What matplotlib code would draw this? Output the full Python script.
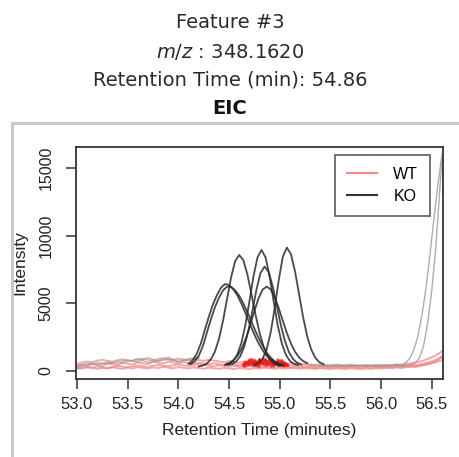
import matplotlib
matplotlib.use("Agg")
import matplotlib.pyplot as plt
from matplotlib.lines import Line2D
from matplotlib.patches import Rectangle

# ---------------- data ----------------
title_feature = "Feature #3"
title_mz = "348.1620"
title_rt = "Retention Time (min): 54.86"
panel_title = "EIC"
x_label = "Retention Time (minutes)"
y_label = "Intensity"
legend_labels = ["WT", "KO"]
x_ticks = [53.0, 53.5, 54.0, 54.5, 55.0, 55.5, 56.0, 56.5]
y_ticks = [0, 5000, 10000, 15000]

# WT (pink) baseline traces on a shared scan grid
wt_rt = [53.00, 53.05, 53.10, 53.15, 53.20, 53.25, 53.30, 53.35, 53.40, 53.45,
         53.50, 53.55, 53.60, 53.65, 53.70, 53.75, 53.80, 53.85, 53.90, 53.95,
         54.00, 54.05, 54.10, 54.15, 54.20, 54.25, 54.30, 54.35, 54.40, 54.45,
         54.50, 54.55, 54.60, 54.65, 54.70, 54.75, 54.80, 54.85, 54.90, 54.95,
         55.00, 55.05, 55.10, 55.15, 55.20, 55.25, 55.30, 55.35, 55.40, 55.45,
         55.50, 55.55, 55.60, 55.65, 55.70, 55.75, 55.80, 55.85, 55.90, 55.95,
         56.00, 56.05, 56.10, 56.15, 56.20, 56.25, 56.30, 56.35, 56.40, 56.45,
         56.50, 56.55, 56.60]
wt_1 = [300, 420, 360, 510, 450, 380, 560, 490, 420, 600, 530, 470, 640, 560, 500, 680, 610, 540, 700, 620,
        560, 650, 580, 520, 610, 540, 480, 570, 500, 440, 530, 470, 420, 500, 450, 400, 470, 420, 380, 440,
        400, 360, 420, 380, 340, 390, 350, 320, 370, 340, 310, 360, 330, 300, 350, 320, 340, 310, 360, 330,
        300, 350, 320, 380, 340, 400, 450, 420, 520, 600, 700, 850, 1000]
wt_2 = [150, 220, 300, 250, 330, 280, 220, 300, 360, 310, 260, 340, 400, 350, 290, 380, 440, 390, 330, 420,
        470, 410, 360, 440, 500, 450, 390, 330, 420, 370, 310, 380, 330, 280, 350, 300, 260, 320, 280, 250,
        300, 270, 240, 290, 260, 230, 270, 240, 220, 260, 240, 210, 250, 230, 270, 240, 220, 260, 240, 280,
        250, 290, 260, 300, 280, 330, 300, 360, 420, 480, 560, 680, 800]
wt_3 = [500, 620, 700, 640, 760, 820, 740, 680, 790, 860, 780, 720, 830, 900, 820, 760, 880, 940, 860, 800,
        900, 840, 780, 860, 800, 740, 820, 760, 700, 640, 720, 660, 600, 680, 620, 560, 640, 580, 520, 590,
        540, 500, 560, 510, 470, 520, 480, 440, 490, 450, 420, 470, 440, 410, 450, 420, 400, 440, 410, 450,
        420, 460, 430, 480, 450, 520, 580, 650, 720, 860, 1000, 1200, 1450]
wt_4 = [250, 180, 260, 210, 150, 230, 180, 260, 200, 150, 240, 190, 280, 220, 170, 260, 210, 300, 240, 190,
        280, 230, 180, 260, 210, 160, 240, 190, 150, 220, 180, 140, 210, 170, 130, 200, 160, 230, 190, 150,
        210, 170, 230, 190, 160, 220, 180, 150, 210, 170, 140, 200, 170, 140, 190, 160, 130, 180, 150, 200,
        170, 220, 190, 250, 210, 280, 340, 300, 400, 480, 600, 760, 1100]

# WT (red) dense scans around the KO peak region
red_rt = [54.64, 54.66, 54.68, 54.70, 54.72, 54.74, 54.76, 54.78, 54.80, 54.82,
          54.84, 54.86, 54.88, 54.90, 54.92, 54.94, 54.96, 54.98, 55.00, 55.02,
          55.04, 55.06, 55.08]
red_1 = [350, 600, 400, 750, 450, 850, 350, 700, 300, 800, 450, 900, 400, 650, 300, 750, 500, 850,
         350, 650, 300, 550, 350]
red_2 = [500, 300, 700, 400, 900, 350, 650, 300, 800, 500, 950, 350, 750, 450, 850, 300, 650, 400,
         800, 350, 700, 350, 450]
red_3 = [450, 700, 550, 850, 600, 500, 800, 550, 900, 650, 550, 800, 600, 900, 550, 700, 450, 650,
         550, 800, 450, 600, 400]

# KO traces (peaks)
ko_a_rt = [54.20, 54.24, 54.28, 54.32, 54.36, 54.40, 54.44, 54.48, 54.52, 54.56, 54.60,
           54.64, 54.68, 54.72, 54.76, 54.80, 54.84, 54.88, 54.92, 54.96, 55.00]
ko_a = [330, 390, 540, 850, 1420, 2360, 3700, 5320, 6920, 8120, 8570,
        8190, 7140, 5700, 4180, 2830, 1800, 1110, 700, 480, 370]

ko_d_rt = [54.12, 54.16, 54.20, 54.24, 54.28, 54.32, 54.36, 54.40, 54.44, 54.48, 54.52, 54.56,
           54.60, 54.64, 54.68, 54.72, 54.76, 54.80, 54.84, 54.88, 54.92, 54.96, 55.00, 55.04]
ko_d = [500, 700, 1100, 1800, 2800, 3800, 4700, 5400, 5950, 6230, 6200, 5950,
        5550, 5000, 4350, 3650, 2950, 2300, 1750, 1250, 900, 650, 500, 420]
ko_d2_rt = [54.10, 54.14, 54.18, 54.22, 54.26, 54.30, 54.34, 54.38, 54.42, 54.46, 54.50, 54.54,
            54.58, 54.62, 54.66, 54.70, 54.74, 54.78, 54.82, 54.86, 54.90, 54.94, 54.98, 55.02]
ko_d2 = [520, 760, 1250, 2000, 3000, 4000, 4900, 5600, 6150, 6420, 6350, 6050,
         5600, 5000, 4300, 3550, 2850, 2200, 1650, 1200, 880, 640, 500, 430]

ko_b_rt = [54.46, 54.50, 54.54, 54.58, 54.62, 54.66, 54.70, 54.74, 54.78, 54.82,
           54.86, 54.90, 54.94, 54.98, 55.02, 55.06, 55.10, 55.14, 55.18]
ko_b = [440, 520, 730, 1190, 2030, 3360, 5110, 6960, 8390, 8940,
        8390, 6960, 5110, 3360, 2030, 1190, 730, 520, 440]

ko_c_rt = [54.75, 54.79, 54.83, 54.87, 54.91, 54.95, 54.99, 55.03, 55.07,
           55.11, 55.15, 55.19, 55.23, 55.27, 55.31, 55.35, 55.39, 55.43]
ko_c = [450, 570, 890, 1580, 2820, 4640, 6720, 8440, 9110,
        8640, 7370, 5690, 3980, 2570, 1580, 970, 650, 500]

ko_e_rt = [54.49, 54.53, 54.57, 54.61, 54.65, 54.69, 54.73, 54.77, 54.81, 54.85,
           54.89, 54.93, 54.97, 55.01, 55.05, 55.09, 55.13, 55.17, 55.21]
ko_e = [440, 500, 690, 1080, 1800, 2940, 4430, 6010, 7240, 7710,
        7320, 6250, 4840, 3400, 2220, 1390, 880, 610, 480]

ko_f_rt = [54.47, 54.51, 54.55, 54.59, 54.63, 54.67, 54.71, 54.75, 54.79, 54.83, 54.87,
           54.91, 54.95, 54.99, 55.03, 55.07, 55.11, 55.15, 55.19, 55.23, 55.27]
ko_f = [500, 620, 830, 1190, 1740, 2500, 3440, 4430, 5350, 6000, 6230,
        6030, 5450, 4630, 3700, 2800, 2020, 1420, 1000, 730, 570]

# KO baselines and the late-eluting light traces
ko_base_rt = [53.00, 53.10, 53.20, 53.30, 53.40, 53.50, 53.60, 53.70, 53.80, 53.90, 54.00, 54.10, 54.20]
ko_base_1 = [400, 550, 480, 650, 560, 700, 900, 620, 750, 1000, 700, 800, 950]
ko_base_2 = [300, 450, 600, 500, 700, 800, 650, 1000, 720, 850, 680, 900, 1000]

late_1_rt = [55.30, 55.50, 55.70, 55.90, 56.10, 56.20, 56.24, 56.28, 56.32, 56.36, 56.40,
             56.44, 56.48, 56.52, 56.56, 56.60]
late_1 = [420, 380, 400, 370, 410, 450, 600, 900, 1500, 2500, 4000,
          6000, 8500, 11200, 13800, 16000]
late_2_rt = [55.40, 55.60, 55.80, 56.00, 56.20, 56.30, 56.34, 56.38, 56.42, 56.46, 56.50,
             56.54, 56.58, 56.60]
late_2 = [380, 350, 390, 360, 400, 450, 600, 1000, 1900, 3600, 6000,
          9200, 13600, 15600]

# ---------------- figure ----------------
W, H = 460, 457
fig = plt.figure(figsize=(W / 100, H / 100), dpi=100)

title_font = ["DejaVu Sans"]
tcol = "#2a2a2a"
fig.text(0.5, 1 - 23 / H, title_feature, ha="center", va="center",
         fontsize=14, family=title_font, color=tcol)
fig.text(0.5, 1 - 52 / H, r"$\it{m/z}$" + " : " + title_mz, ha="center", va="center",
         fontsize=14, family=title_font, color=tcol)
fig.text(0.5, 1 - 80 / H, title_rt, ha="center", va="center",
         fontsize=14, family=title_font, color=tcol)
fig.text(0.5, 1 - 108 / H, panel_title, ha="center", va="center",
         fontsize=14, family=title_font, fontweight="bold", color="#111111")

# outer panel frame
fig.patches.append(Rectangle((12 / W, -0.05), 1.2, 1 - 123 / H + 0.05,
                             transform=fig.transFigure, fill=False,
                             edgecolor="#c8c8c8", linewidth=2.2))

ax = fig.add_axes([76 / W, 1 - 379 / H, (443 - 76) / W, (379 - 147) / H])

pink = "#f08a8a"
for ys in (wt_1, wt_2, wt_3, wt_4):
    ax.plot(wt_rt, ys, color=pink, lw=1.4, alpha=0.75, zorder=2)
for ys in (red_1, red_2, red_3):
    ax.plot(red_rt, ys, color="#ee1c1c", lw=1.4, alpha=0.85, zorder=3)

for ys in (ko_base_1, ko_base_2):
    ax.plot(ko_base_rt, ys, color="#9a9a9a", lw=1.0, alpha=0.7, zorder=2)
for rt, ys in ((late_1_rt, late_1), (late_2_rt, late_2)):
    ax.plot(rt, ys, color="#9a9a9a", lw=1.0, alpha=0.8, zorder=2)

for rt, ys in ((ko_a_rt, ko_a), (ko_d_rt, ko_d), (ko_d2_rt, ko_d2), (ko_b_rt, ko_b),
               (ko_c_rt, ko_c), (ko_e_rt, ko_e), (ko_f_rt, ko_f)):
    ax.plot(rt, ys, color="#2a2a2a", lw=1.3, alpha=0.85, zorder=4)

ax.set_xlim(52.99, 56.61)
ax.set_ylim(-600, 16550)
ax.set_xticks(x_ticks)
ax.set_xticklabels([f"{v:.1f}" for v in x_ticks])
ax.set_yticks(y_ticks)
ax.set_yticklabels([str(v) for v in y_ticks], rotation=90, va="center")

lab_font = ["Liberation Sans"]
for lbl in ax.get_xticklabels() + ax.get_yticklabels():
    lbl.set_family(lab_font)
    lbl.set_color("#222222")
ax.tick_params(axis="x", labelsize=12, length=7, width=1.1, pad=6, color="#333333")
ax.tick_params(axis="y", labelsize=11.5, length=7, width=1.1, pad=9, color="#333333")
for sp in ax.spines.values():
    sp.set_color("#333333")
    sp.set_linewidth(1.3)

ax.set_xlabel(x_label, family=lab_font, fontsize=12.5, color="#222222", labelpad=8)
ax.set_ylabel(y_label, family=lab_font, fontsize=12.5, color="#222222", labelpad=8)

handles = [Line2D([], [], color=pink, lw=1.5), Line2D([], [], color="#333333", lw=1.5)]
leg = ax.legend(handles, legend_labels, loc="upper right", bbox_to_anchor=(0.965, 0.966),
                prop={"family": lab_font, "size": 11.5}, frameon=True, fancybox=False,
                edgecolor="#333333", handlelength=1.9, handletextpad=1.0,
                borderpad=0.75, labelspacing=0.45, borderaxespad=0.0)
leg.get_frame().set_linewidth(1.2)

fig.savefig("out.png", dpi=100)
